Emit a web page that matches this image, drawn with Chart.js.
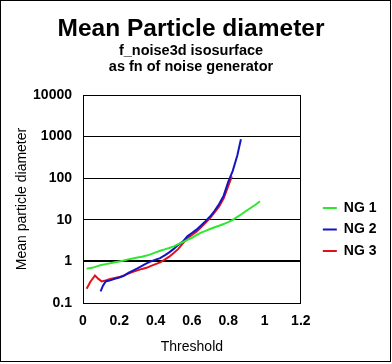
<!DOCTYPE html>
<html>
<head>
<meta charset="utf-8">
<script src="https://cdn.jsdelivr.net/npm/chart.js@4/dist/chart.umd.min.js"></script>
<style>
  html, body { margin: 0; padding: 0; background: #fff; }
</style>
</head>
<body>
<canvas id="chart" width="392" height="364"></canvas>
<script>
// ---- data ----
const seriesNames = ['NG 1', 'NG 2', 'NG 3'];
const seriesColors = ['#2ee82e', '#1414c4', '#e0101c'];

const ng1Threshold = [0.02, 0.05, 0.075, 0.1, 0.125, 0.15, 0.175, 0.2, 0.225, 0.25, 0.275, 0.3, 0.325, 0.35, 0.375, 0.4, 0.425, 0.45, 0.475, 0.5, 0.525, 0.55, 0.575, 0.6, 0.625, 0.65, 0.675, 0.7, 0.725, 0.75, 0.775, 0.8, 0.825, 0.85, 0.875, 0.9, 0.925, 0.95, 0.975];
const ng1Diameter  = [0.67, 0.70, 0.76, 0.82, 0.86, 0.90, 0.95, 1.0, 1.05, 1.12, 1.18, 1.24, 1.30, 1.38, 1.50, 1.65, 1.80, 1.95, 2.1, 2.3, 2.6, 2.9, 3.3, 3.7, 4.3, 4.9, 5.4, 6.0, 6.6, 7.2, 7.9, 8.8, 10.0, 11.8, 13.8, 16.5, 19.5, 23, 28];

const ng2Threshold = [0.097, 0.11, 0.125, 0.15, 0.175, 0.2, 0.225, 0.25, 0.275, 0.3, 0.325, 0.35, 0.375, 0.4, 0.425, 0.45, 0.475, 0.5, 0.525, 0.55, 0.575, 0.6, 0.625, 0.65, 0.675, 0.7, 0.725, 0.75, 0.775, 0.8, 0.825, 0.85, 0.87];
const ng2Diameter  = [0.19, 0.26, 0.33, 0.35, 0.38, 0.41, 0.45, 0.53, 0.60, 0.68, 0.78, 0.90, 1.0, 1.1, 1.2, 1.4, 1.65, 2.0, 2.5, 3.0, 4.0, 4.8, 5.8, 7.3, 9.3, 12, 16.5, 24, 38, 82, 150, 350, 860];

const ng3Threshold = [0.02, 0.04, 0.066, 0.085, 0.103, 0.125, 0.15, 0.175, 0.2, 0.225, 0.25, 0.275, 0.3, 0.325, 0.35, 0.375, 0.4, 0.425, 0.45, 0.475, 0.5, 0.525, 0.55, 0.575, 0.6, 0.625, 0.65, 0.675, 0.7, 0.725, 0.75, 0.775, 0.8, 0.82];
const ng3Diameter  = [0.22, 0.32, 0.46, 0.38, 0.33, 0.35, 0.38, 0.40, 0.42, 0.46, 0.51, 0.56, 0.61, 0.66, 0.70, 0.78, 0.86, 0.95, 1.1, 1.3, 1.6, 2.0, 2.7, 3.6, 4.3, 5.2, 6.6, 8.5, 11, 15, 21, 33, 64, 110];

const xTicks = [0, 0.2, 0.4, 0.6, 0.8, 1, 1.2];
const yTicks = [0.1, 1, 10, 100, 1000, 10000];

const titleText = 'Mean Particle diameter';
const subtitleLines = ['f_noise3d isosurface', 'as fn of noise generator'];

const FONT = '"Liberation Sans", Arial, sans-serif';

const toPoints = (xs, ys) => xs.map((x, i) => ({ x: x, y: ys[i] }));
const seriesData = [
    toPoints(ng1Threshold, ng1Diameter),
    toPoints(ng2Threshold, ng2Diameter),
    toPoints(ng3Threshold, ng3Diameter)
];

// titles + outer frame, and nudge the legend to sit where the original one is
const framePlugin = {
    id: 'frame',
    afterLayout(chart) {
        const lg = chart.legend;
        if (lg) {
            lg.left = chart.chartArea.right + 22 - lg.options.labels.padding;
            lg.right = lg.left + lg.width;
        }
    },
    afterDraw(chart) {
        const ctx = chart.ctx;
        ctx.save();
        ctx.fillStyle = '#000';
        ctx.textAlign = 'center';
        ctx.textBaseline = 'alphabetic';
        ctx.font = 'bold 24.5px ' + FONT;
        ctx.fillText(titleText, 191, 36);
        ctx.font = 'bold 14.5px ' + FONT;
        ctx.fillText(subtitleLines[0], 191, 55);
        ctx.fillText(subtitleLines[1], 191, 71);
        ctx.strokeStyle = '#000';
        ctx.lineWidth = 1;
        ctx.strokeRect(0.5, 0.5, 390, 361);
        ctx.restore();
    }
};

new Chart(document.getElementById('chart').getContext('2d'), {
    type: 'line',
    data: {
        datasets: seriesNames.map((name, i) => ({
            label: name,
            data: seriesData[i],
            borderColor: seriesColors[i],
            backgroundColor: seriesColors[i],
            borderWidth: 2,
            pointRadius: 0,
            tension: 0,
            fill: false
        }))
    },
    options: {
        responsive: false,
        animation: false,
        devicePixelRatio: 1,
        layout: { padding: { top: 95, right: 20, bottom: 0, left: 0 } },
        plugins: {
            tooltip: { enabled: false },
            legend: {
                position: 'right',
                labels: {
                    usePointStyle: true,
                    pointStyle: 'line',
                    pointStyleWidth: 14,
                    padding: 7.5,
                    color: '#000',
                    font: { family: FONT, size: 14, weight: 'bold' }
                }
            }
        },
        scales: {
            x: {
                type: 'linear',
                min: 0,
                max: 1.2,
                afterBuildTicks: s => { s.ticks = xTicks.map(v => ({ value: v })); },
                afterFit: s => { s.height = 61; },
                grid: {
                    drawTicks: false,
                    color: c => (c.tick && c.tick.value === 1.2) ? '#000' : 'rgba(0,0,0,0)'
                },
                border: { color: '#000', width: 1 },
                ticks: {
                    padding: 10,
                    color: '#000',
                    maxRotation: 0,
                    font: { family: FONT, size: 14, weight: 'bold' },
                    callback: v => String(v)
                },
                title: {
                    display: true,
                    text: 'Threshold',
                    color: '#000',
                    padding: { top: 0, bottom: 8.6 },
                    font: { family: FONT, size: 14 }
                }
            },
            y: {
                type: 'logarithmic',
                min: 0.1,
                max: 10000,
                afterBuildTicks: s => { s.ticks = yTicks.map(v => ({ value: v })); },
                afterFit: s => { s.width = 83; },
                grid: {
                    drawTicks: false,
                    color: '#000',
                    lineWidth: c => (c.tick && c.tick.value === 1) ? 2 : 1
                },
                border: { color: '#000', width: 1 },
                ticks: {
                    padding: 11,
                    color: '#000',
                    font: { family: FONT, size: 14, weight: 'bold' },
                    callback: v => String(v)
                },
                title: {
                    display: true,
                    text: 'Mean particle diameter',
                    color: '#000',
                    padding: { top: 13.6, bottom: 0 },
                    font: { family: FONT, size: 14 }
                }
            }
        }
    },
    plugins: [framePlugin]
});
</script>
</body>
</html>
